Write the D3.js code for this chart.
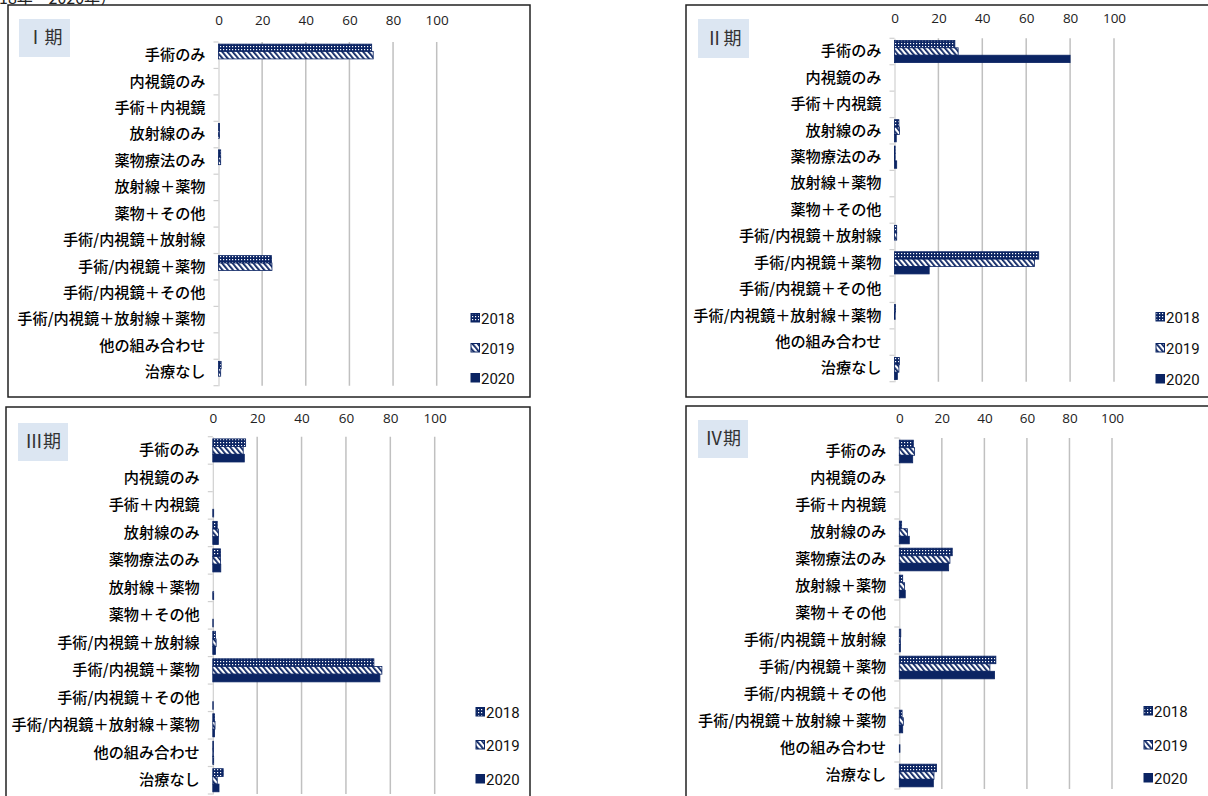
<!DOCTYPE html>
<html><head><meta charset="utf-8">
<script src="https://cdn.jsdelivr.net/npm/d3@7"></script>
<style>
body{margin:0;background:#fff;}
svg{display:block;}
</style></head>
<body>
<svg id="chart" width="1208" height="796"></svg>
<script>
const categories = ["手術のみ","内視鏡のみ","手術＋内視鏡","放射線のみ","薬物療法のみ","放射線＋薬物","薬物＋その他","手術/内視鏡＋放射線","手術/内視鏡＋薬物","手術/内視鏡＋その他","手術/内視鏡＋放射線＋薬物","他の組み合わせ","治療なし"];
const years = ["2018","2019","2020"];
const xTicks = [0,20,40,60,80,100];
const stageNames = ["Ⅰ期","Ⅱ期","Ⅲ期","Ⅳ期"];

const stageI_2018  = [70.2,0,0,0.5,1.0,0,0,0,24.3,0,0,0,1.2];
const stageI_2019  = [70.9,0,0,0.5,1.0,0,0,0,24.5,0,0,0,1.0];
const stageI_2020  = [0,0,0,0,0,0,0,0,0,0,0,0,0];
const stageII_2018 = [27.5,0,0,2.0,0.3,0,0,1.0,65.7,0,0.5,0,2.2];
const stageII_2019 = [29.0,0,0,2.3,0.3,0,0,1.0,63.8,0,0.3,0,2.0];
const stageII_2020 = [80.0,0,0,0.8,1.0,0,0,0,15.8,0,0,0,1.3];
const stageIII_2018= [14.8,0,0,2.0,3.5,0,0,1.2,72.6,0,0.8,0.3,4.7];
const stageIII_2019= [13.7,0,0,2.6,3.5,0,0,1.5,76.2,0,1.0,0.3,2.0];
const stageIII_2020= [14.2,0,0.4,2.5,3.6,0.4,0.2,1.2,75.3,0.2,0.8,0.4,2.8];
const stageIV_2018 = [6.6,0,0,1.1,24.9,1.6,0,0.7,45.4,0,1.3,0,17.5];
const stageIV_2019 = [7.2,0,0,3.8,23.8,2.5,0,0.5,42.6,0,1.9,0.3,16.3];
const stageIV_2020 = [6.3,0,0,4.7,23.2,2.8,0,0.5,44.8,0,1.6,0,16.0];

const stageData = [
  [stageI_2018, stageI_2019, stageI_2020],
  [stageII_2018, stageII_2019, stageII_2020],
  [stageIII_2018, stageIII_2019, stageIII_2020],
  [stageIV_2018, stageIV_2019, stageIV_2020]
];

// layout (positions only)
const layouts = [
  {box:[8,5,522,392],  x0:218.5, x1:436.7, yT:42,    yB:385.7, tickY:25,  lab:[19,19,51,38],  legX:471,  legY:[318,348,378]},
  {box:[686,5,600,392],x0:894.5, x1:1114,  yT:38.3,  yB:381.7, tickY:23,  lab:[698,19,51,39], legX:1156, legY:[317,348,379]},
  {box:[6,407,524,400],x0:212.8, x1:434.7, yT:436.7, yB:794,   tickY:423, lab:[18,423,50,38], legX:476,  legY:[712,745,779]},
  {box:[686,406,600,400],x0:899.3,x1:1112, yT:438,   yB:789,   tickY:423, lab:[698,420,50,38],legX:1144, legY:[711,745,778]}
];

const NAVY = "#0b2463";
const svg = d3.select("#chart");
const defs = svg.append("defs");

const p18 = defs.append("pattern").attr("id","p2018").attr("patternUnits","userSpaceOnUse").attr("width",3).attr("height",3);
p18.append("rect").attr("width",3).attr("height",3).attr("fill",NAVY);
p18.append("rect").attr("x",1).attr("y",1).attr("width",1.2).attr("height",1.2).attr("fill","#fff");
const p19 = defs.append("pattern").attr("id","p2019").attr("patternUnits","userSpaceOnUse").attr("width",4).attr("height",4).attr("patternTransform","rotate(-40)");
p19.append("rect").attr("width",4).attr("height",4).attr("fill","#fff");
p19.append("rect").attr("x",0).attr("y",0).attr("width",1.8).attr("height",4).attr("fill",NAVY);

const fills = ["url(#p2018)","url(#p2019)",NAVY];

// heading at the very top (mostly above the visible area, as in the source)
svg.append("text").attr("x",-1).attr("y",4).attr("font-family","Noto Sans CJK JP").attr("font-size",16).attr("fill","#222").text("18年 – 2020年）");

layouts.forEach((L, si) => {
  const g = svg.append("g");
  g.append("rect").attr("x",L.box[0]).attr("y",L.box[1]).attr("width",L.box[2]).attr("height",L.box[3])
    .attr("fill","#fff").attr("stroke","#222").attr("stroke-width",1.5);

  const x = d3.scaleLinear().domain([0,100]).range([L.x0, L.x1]);
  const y = d3.scaleBand().domain(categories).range([L.yT, L.yB]);

  g.selectAll(".grid").data(xTicks.filter(t=>t>0)).join("line")
    .attr("x1",d=>x(d)).attr("x2",d=>x(d)).attr("y1",L.yT).attr("y2",L.yB)
    .attr("stroke","#c0c0c0").attr("stroke-width",1.5);

  const ax = d3.axisTop(x).tickValues(xTicks).tickSize(0).tickPadding(0);
  const axg = g.append("g").attr("transform",`translate(0,${L.tickY})`).call(ax);
  axg.select(".domain").remove();
  axg.selectAll("text").attr("font-family","Open Sans").attr("font-size",13.5).attr("fill","#222").attr("dy",0);

  g.append("rect").attr("x",L.lab[0]).attr("y",L.lab[1]).attr("width",L.lab[2]).attr("height",L.lab[3]).attr("fill","#dce6f2");
  g.append("text").attr("x",L.lab[0]+L.lab[2]/2).attr("y",L.lab[1]+L.lab[3]/2+6)
    .attr("text-anchor","middle").attr("font-family","Noto Sans CJK JP").attr("font-size",18).attr("fill","#333")
    .text(stageNames[si]);

  const ay = d3.axisLeft(y).tickSize(0).tickPadding(13);
  const ayg = g.append("g").attr("transform",`translate(${L.x0},0)`).call(ay);
  ayg.select(".domain").attr("stroke","#d0d0d0").attr("stroke-width",1.2);
  ayg.selectAll("text").attr("font-family","Noto Sans CJK JP").attr("font-size",15.2).attr("font-weight",500).attr("fill","#000");
  g.selectAll(".cattick").data(categories.concat(["__end"])).join("line")
    .attr("x1",L.x0-5).attr("x2",L.x0)
    .attr("y1",d=> d==="__end" ? L.yB : y(d)).attr("y2",d=> d==="__end" ? L.yB : y(d))
    .attr("stroke","#d0d0d0").attr("stroke-width",1.2);

  const bw = y.bandwidth();
  const bh = bw*0.28;
  const pad = (bw - 3*bh)/2;
  stageData[si].forEach((vals, yi) => {
    g.selectAll(".bar"+yi).data(vals.map((v,i)=>({v, c:categories[i]})).filter(d=>d.v>0)).join("rect")
      .attr("x",L.x0).attr("y",d=>y(d.c)+pad+yi*bh)
      .attr("width",d=>x(d.v)-L.x0).attr("height",bh)
      .attr("fill",fills[yi]).attr("stroke",NAVY).attr("stroke-width",0.8);
  });

  years.forEach((yr, yi) => {
    g.append("rect").attr("x",L.legX).attr("y",L.legY[yi]-4.5).attr("width",8.5).attr("height",8.5)
      .attr("fill",fills[yi]).attr("stroke",NAVY).attr("stroke-width",1);
    g.append("text").attr("x",L.legX+10).attr("y",L.legY[yi]+5.5)
      .attr("font-family","Roboto").attr("font-size",15).attr("fill","#111").text(yr);
  });
});
</script>
</body></html>
